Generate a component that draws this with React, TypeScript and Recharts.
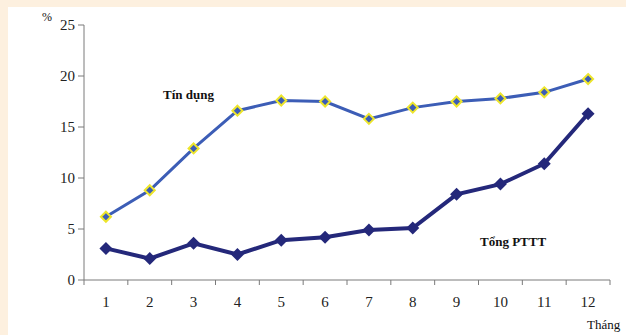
import { Line, LineChart, XAxis, YAxis } from "recharts"

const months = [1, 2, 3, 4, 5, 6, 7, 8, 9, 10, 11, 12]
const tinDung = [6.2, 8.8, 12.9, 16.6, 17.6, 17.5, 15.8, 16.9, 17.5, 17.8, 18.4, 19.7]
const tongPttt = [3.1, 2.1, 3.6, 2.5, 3.9, 4.2, 4.9, 5.1, 8.4, 9.4, 11.4, 16.3]
const yTicks = [0, 5, 10, 15, 20, 25]

const data = months.map((m, i) => ({ m, tinDung: tinDung[i], tongPttt: tongPttt[i] }))

const W = 618
const H = 328
const X_H = 30
const M = { top: 18, right: 16, bottom: 55 - X_H, left: 36 }
const Y_W = 40
const half = (W - M.left - Y_W - M.right) / months.length / 2
const serif = "Liberation Serif, Times New Roman, serif"
const axisColor = "#7a7a7a"

const diamond = (cx: number, cy: number, r: number) =>
  `${cx},${cy - r} ${cx + r},${cy} ${cx},${cy + r} ${cx - r},${cy}`

const MonthTick = (props: any) => {
  const { x, y, payload, index } = props
  return (
    <g>
      <line x1={x + half} y1={y} x2={x + half} y2={y + 5} stroke={axisColor} />
      {index === 0 && <line x1={x - half} y1={y} x2={x - half} y2={y + 5} stroke={axisColor} />}
      <text x={x} y={y + 27} textAnchor="middle" fontSize={15} fontFamily={serif} fill="#222">
        {payload.value}
      </text>
    </g>
  )
}

const TinDot = (p: any) => (
  <polygon key={`t${p.index}`} points={diamond(p.cx, p.cy, 5)} fill="#3C5DB6" stroke="#EDE52C" strokeWidth={2} />
)
const PtttDot = (p: any) => (
  <polygon key={`p${p.index}`} points={diamond(p.cx, p.cy, 6.5)} fill="#24287A" />
)

const label = (left: number, top: number, bold: boolean, size: number) => ({
  position: "absolute" as const,
  left,
  top,
  fontFamily: serif,
  fontSize: size,
  fontWeight: bold ? 700 : 400,
  color: "#111",
  lineHeight: 1,
  whiteSpace: "nowrap" as const,
})

export default function App() {
  return (
    <div style={{ position: "relative", width: 626, height: 335, background: "#FDF0DF" }}>
      <style>{`body{margin:0}`}</style>
      <div style={{ position: "absolute", left: 8, top: 7, width: W, height: H, background: "#fff" }}>
        <LineChart width={W} height={H} data={data} margin={M}>
          <XAxis
            dataKey="m"
            type="number"
            domain={[0.5, 12.5]}
            ticks={months}
            allowDataOverflow
            height={X_H}
            tickLine={false}
            tickSize={0}
            tickMargin={0}
            axisLine={{ stroke: axisColor }}
            tick={<MonthTick />}
            interval={0}
          />
          <YAxis
            width={Y_W}
            domain={[0, 25]}
            ticks={yTicks}
            tickSize={6}
            tickMargin={3}
            axisLine={{ stroke: axisColor }}
            tickLine={{ stroke: axisColor }}
            tick={{ fontSize: 15, fontFamily: serif, fill: "#222" }}
          />
          <Line
            dataKey="tinDung"
            stroke="#3C5DB6"
            strokeWidth={3}
            dot={TinDot}
            activeDot={false}
            isAnimationActive={false}
          />
          <Line
            dataKey="tongPttt"
            stroke="#24287A"
            strokeWidth={4}
            dot={PtttDot}
            activeDot={false}
            isAnimationActive={false}
          />
        </LineChart>
        <div style={label(34, 4, false, 12)}>%</div>
        <div style={label(155, 81, true, 13)}>Tín dụng</div>
        <div style={label(472, 228, true, 13)}>Tổng PTTT</div>
        <div style={label(579, 311, false, 13)}>Tháng</div>
      </div>
    </div>
  )
}
